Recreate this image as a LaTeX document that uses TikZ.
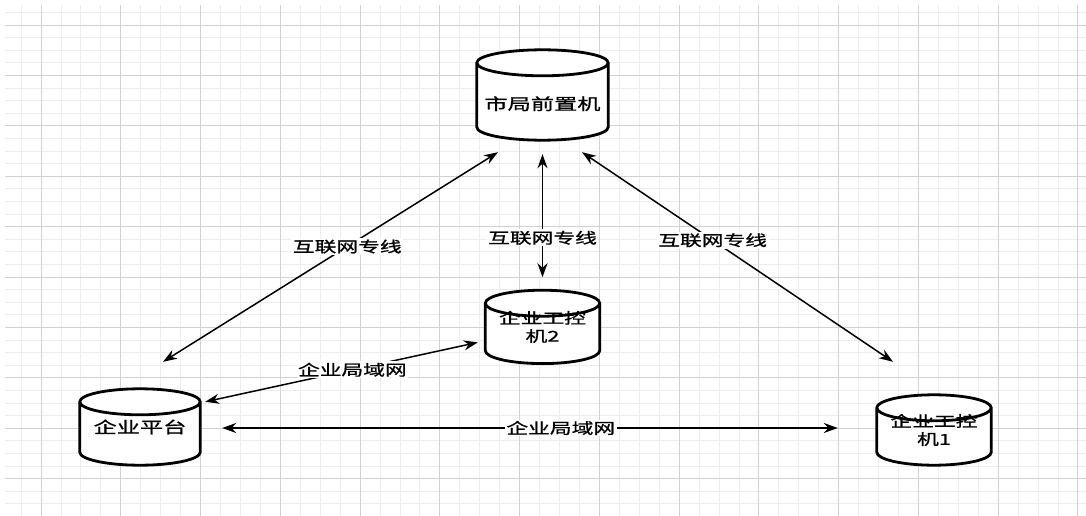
\documentclass[tikz,border=0pt]{standalone}
\usepackage{fontspec}
\newfontfamily\cjk[FakeStretch=1.45,FakeBold=1]{Noto Sans CJK SC}
\usetikzlibrary{arrows.meta,positioning,backgrounds,calc}

\begin{document}
\begin{tikzpicture}[x=1pt,y=-1pt,font=\cjk\fontsize{15}{18}\selectfont,>={Stealth[length=14pt,width=10pt]},
  db/.style={inner sep=0pt,align=center,font=\cjk\fontsize{16}{18}\selectfont},
  dbsmall/.style={inner sep=0pt,align=center},
  cyl/.style={draw,fill=white,line width=2.8pt},
  link/.style={<->,line width=1.5pt},
  lab/.style={fill=white,inner sep=1.5pt},
  minorgrid/.style={draw=black!7,line width=0.8pt},
  majorgrid/.style={draw=black!18,line width=0.8pt}]
\useasboundingbox (0,0) rectangle (1086,516);
\node[db,minimum width=131,minimum height=90,text height=31pt] (qz) at (542.5,95) {市局前置机};
\node[dbsmall,minimum width=114,minimum height=73,below=150pt of qz] (gk2) {企业工控\\机2};
\node[db,minimum width=120,minimum height=76] (pt) at (140,427) {企业平台};
\node[dbsmall,minimum width=114,minimum height=70] (gk1) at (934,430) {企业工控\\机1};
\draw[link] ([shift={(23,-27)}]pt.north) -- node[lab,pos=0.55] {互联网专线} ([shift={(-44.5,12)}]qz.south);
\draw[link] ([shift={(0,14)}]qz.south) -- node[lab,pos=0.68] {互联网专线} ([shift={(0,-13)}]gk2.north);
\draw[link] ([shift={(39.5,12)}]qz.south) -- node[lab,pos=0.42] {互联网专线} ([shift={(-41,-33)}]gk1.north);
\draw[link] ([shift={(5,13)}]pt.north east) -- node[lab,pos=0.54] {企业局域网} ([shift={(-7.5,15.5)}]gk2.west);
\draw[link] ([shift={(22,1)}]pt.east) -- node[lab,pos=0.55] {企业局域网} ([shift={(-39,-2)}]gk1.west);
\begin{scope}[on background layer]
\foreach \k in {-1,...,52} \draw[minorgrid] ({41+19.94*\k},5) -- ({41+19.94*\k},516);
\foreach \k in {-1,...,38} \draw[minorgrid] (5,{25+12.6*\k}) -- (1086,{25+12.6*\k});
\foreach \k in {0,...,13} \draw[majorgrid] ({41+79.76*\k},5) -- ({41+79.76*\k},516);
\foreach \k in {0,...,9} \draw[majorgrid] (5,{25+50.4*\k}) -- (1086,{25+50.4*\k});
\foreach \nd in {qz,gk2,pt,gk1}
  \draw[cyl] let \p1=(\nd.north west),\p2=(\nd.south east),\n1={(\x2-\x1)/2} in
    (\x1,\y1-13pt) -- (\x1,\y2+13pt) arc[start angle=180,end angle=360,x radius=\n1,y radius=13pt]
    -- (\x2,\y1-13pt) arc[start angle=0,end angle=180,x radius=\n1,y radius=13pt]
    arc[start angle=180,end angle=360,x radius=\n1,y radius=13pt];
\end{scope}
\end{tikzpicture}
\end{document}
